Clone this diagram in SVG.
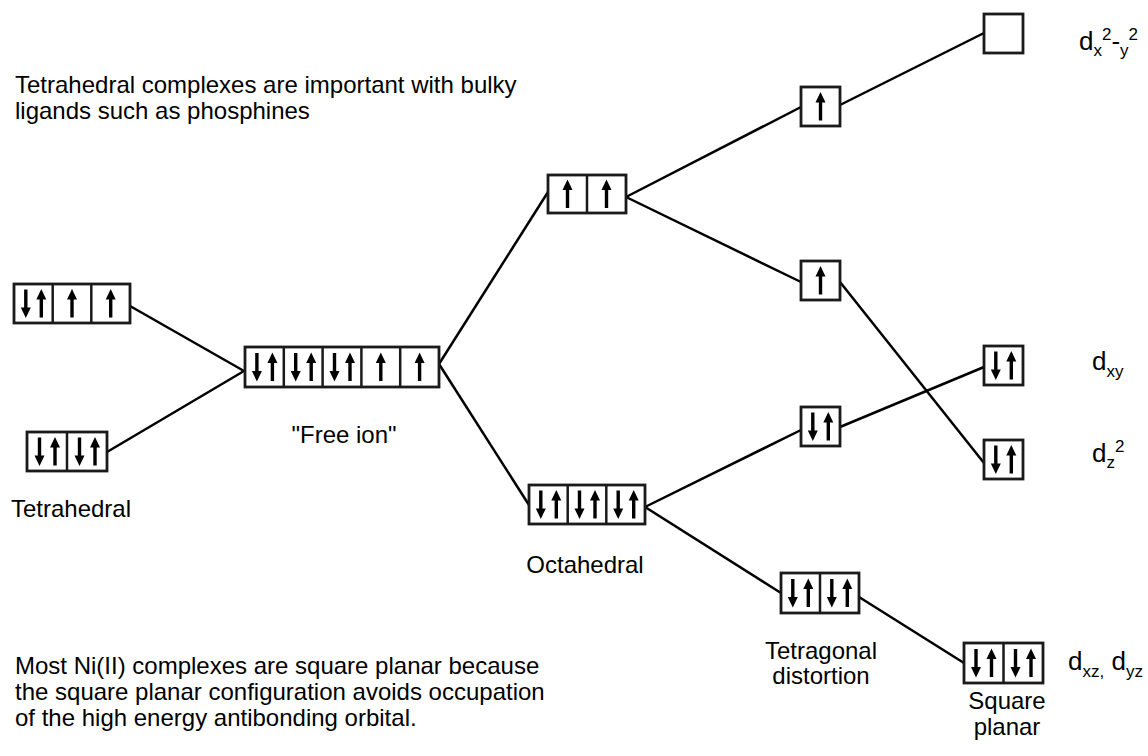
<svg xmlns="http://www.w3.org/2000/svg" xmlns:xlink="http://www.w3.org/1999/xlink" width="1148" height="756" viewBox="0 0 1148 756">
  <style>
    .box { fill: #ffffff; stroke: #1a1a1a; stroke-width: 2.8; }
    .div { stroke: #1a1a1a; stroke-width: 2.5; }
    .link { stroke: #000000; stroke-width: 2.5; fill: none; }
    .txt { font-family: "Liberation Sans", Arial, sans-serif; fill: #000000; }
    .para { font-size: 24px; }
    .lbl { font-size: 24px; }
    .orb { font-size: 26px; }
    .sm { font-size: 17px; }
  </style>
  <defs>
    <!-- electron spin arrows, centred on (0,0) -->
    <g id="up">
      <line x1="0" y1="14" x2="0" y2="-5" stroke="#000" stroke-width="3.4"/>
      <polygon points="0,-14.5 -5,-4 5,-4" fill="#000"/>
    </g>
    <g id="down">
      <line x1="0" y1="-14" x2="0" y2="5" stroke="#000" stroke-width="3.4"/>
      <polygon points="0,14.5 -5,4 5,4" fill="#000"/>
    </g>
  </defs>

  <!-- connectors -->
  <g id="connectors">
    <line class="link" x1="130" y1="306" x2="244" y2="371"/>
    <line class="link" x1="107" y1="452" x2="244" y2="371"/>
    <line class="link" x1="439" y1="364" x2="548" y2="192"/>
    <line class="link" x1="439" y1="364" x2="529" y2="505"/>
    <line class="link" x1="626" y1="197" x2="801" y2="107"/>
    <line class="link" x1="626" y1="197" x2="801" y2="282"/>
    <line class="link" x1="840" y1="105" x2="984" y2="33"/>
    <line class="link" x1="840" y1="282" x2="984" y2="463"/>
    <line class="link" x1="645" y1="507" x2="801" y2="430"/>
    <line class="link" x1="645" y1="507" x2="781" y2="593"/>
    <line class="link" x1="840" y1="427" x2="984" y2="367"/>
    <line class="link" x1="859" y1="597" x2="964" y2="663"/>
  </g>

  <!-- tetrahedral, upper set -->
  <g id="tet-upper">
    <rect class="box" x="14" y="284" width="116" height="39"/>
    <line class="div" x1="52.7" y1="284" x2="52.7" y2="323"/>
    <line class="div" x1="91.3" y1="284" x2="91.3" y2="323"/>
    <use xlink:href="#down" x="25.8" y="303.5"/>
    <use xlink:href="#up" x="41.3" y="303.5"/>
    <use xlink:href="#up" x="72" y="303.5"/>
    <use xlink:href="#up" x="110.7" y="303.5"/>
  </g>

  <!-- tetrahedral, lower set -->
  <g id="tet-lower">
    <rect class="box" x="27" y="432" width="80" height="39"/>
    <line class="div" x1="67" y1="432" x2="67" y2="471"/>
    <use xlink:href="#down" x="39.5" y="451.5"/>
    <use xlink:href="#up" x="55" y="451.5"/>
    <use xlink:href="#down" x="79.5" y="451.5"/>
    <use xlink:href="#up" x="95" y="451.5"/>
  </g>
  <text id="lbl-tetrahedral" class="txt lbl" x="71" y="517" text-anchor="middle">Tetrahedral</text>

  <!-- free ion -->
  <g id="free-ion">
    <rect class="box" x="245" y="347" width="194" height="40"/>
    <line class="div" x1="283.8" y1="347" x2="283.8" y2="387"/>
    <line class="div" x1="322.6" y1="347" x2="322.6" y2="387"/>
    <line class="div" x1="361.4" y1="347" x2="361.4" y2="387"/>
    <line class="div" x1="400.2" y1="347" x2="400.2" y2="387"/>
    <use xlink:href="#down" x="256.9" y="367"/>
    <use xlink:href="#up" x="272.4" y="367"/>
    <use xlink:href="#down" x="295.7" y="367"/>
    <use xlink:href="#up" x="311.2" y="367"/>
    <use xlink:href="#down" x="334.5" y="367"/>
    <use xlink:href="#up" x="350" y="367"/>
    <use xlink:href="#up" x="380.8" y="367"/>
    <use xlink:href="#up" x="419.6" y="367"/>
  </g>
  <text id="lbl-free-ion" class="txt lbl" x="344" y="443" text-anchor="middle">"Free ion"</text>

  <!-- octahedral eg -->
  <g id="oct-eg">
    <rect class="box" x="548" y="175" width="78" height="38"/>
    <line class="div" x1="587" y1="175" x2="587" y2="213"/>
    <use xlink:href="#up" x="567.5" y="194"/>
    <use xlink:href="#up" x="606.5" y="194"/>
  </g>

  <!-- octahedral t2g -->
  <g id="oct-t2g">
    <rect class="box" x="529" y="485" width="116" height="39"/>
    <line class="div" x1="567.7" y1="485" x2="567.7" y2="524"/>
    <line class="div" x1="606.3" y1="485" x2="606.3" y2="524"/>
    <use xlink:href="#down" x="540.8" y="504.5"/>
    <use xlink:href="#up" x="556.3" y="504.5"/>
    <use xlink:href="#down" x="579.5" y="504.5"/>
    <use xlink:href="#up" x="595" y="504.5"/>
    <use xlink:href="#down" x="618.2" y="504.5"/>
    <use xlink:href="#up" x="633.7" y="504.5"/>
  </g>
  <text id="lbl-octahedral" class="txt lbl" x="585" y="573" text-anchor="middle">Octahedral</text>

  <!-- tetragonal distortion levels -->
  <g id="tetg-b1g">
    <rect class="box" x="801" y="87" width="39" height="39"/>
    <use xlink:href="#up" x="820.5" y="106.5"/>
  </g>
  <g id="tetg-a1g">
    <rect class="box" x="801" y="261" width="39" height="39"/>
    <use xlink:href="#up" x="820.5" y="280.5"/>
  </g>
  <g id="tetg-b2g">
    <rect class="box" x="801" y="407" width="39" height="39"/>
    <use xlink:href="#down" x="812.8" y="426.5"/>
    <use xlink:href="#up" x="828.3" y="426.5"/>
  </g>
  <g id="tetg-eg">
    <rect class="box" x="781" y="573" width="78" height="40"/>
    <line class="div" x1="820" y1="573" x2="820" y2="613"/>
    <use xlink:href="#down" x="792.8" y="593"/>
    <use xlink:href="#up" x="808.3" y="593"/>
    <use xlink:href="#down" x="831.8" y="593"/>
    <use xlink:href="#up" x="847.3" y="593"/>
  </g>
  <text id="lbl-tetragonal" class="txt lbl" text-anchor="middle"><tspan x="821" y="659">Tetragonal</tspan><tspan x="821" y="684">distortion</tspan></text>

  <!-- square planar levels -->
  <g id="sq-dx2y2">
    <rect class="box" x="984" y="14" width="39" height="39"/>
  </g>
  <g id="sq-dxy">
    <rect class="box" x="984" y="346" width="39" height="39"/>
    <use xlink:href="#down" x="995.8" y="365.5"/>
    <use xlink:href="#up" x="1011.3" y="365.5"/>
  </g>
  <g id="sq-dz2">
    <rect class="box" x="984" y="440" width="39" height="39"/>
    <use xlink:href="#down" x="995.8" y="459.5"/>
    <use xlink:href="#up" x="1011.3" y="459.5"/>
  </g>
  <g id="sq-dxz-dyz">
    <rect class="box" x="964" y="643" width="79" height="40"/>
    <line class="div" x1="1003.5" y1="643" x2="1003.5" y2="683"/>
    <use xlink:href="#down" x="976" y="663"/>
    <use xlink:href="#up" x="991.5" y="663"/>
    <use xlink:href="#down" x="1015.5" y="663"/>
    <use xlink:href="#up" x="1031" y="663"/>
  </g>
  <text id="lbl-square" class="txt lbl" text-anchor="middle"><tspan x="1007" y="709">Square</tspan><tspan x="1007" y="735">planar</tspan></text>

  <!-- orbital names -->
  <text class="txt orb" x="1079" y="50">d<tspan class="sm" dy="6">x</tspan><tspan class="sm" dy="-16">2</tspan><tspan dy="10">-</tspan><tspan class="sm" dy="6">y</tspan><tspan class="sm" dy="-16">2</tspan></text>
  <text class="txt orb" x="1092" y="370">d<tspan class="sm" dy="7">xy</tspan></text>
  <text class="txt orb" x="1092" y="462">d<tspan class="sm" dy="6">z</tspan><tspan class="sm" dy="-16">2</tspan></text>
  <text class="txt orb" x="1068" y="670">d<tspan class="sm" dy="7">xz,</tspan><tspan dy="-7"> d</tspan><tspan class="sm" dy="7">yz</tspan></text>

  <!-- notes -->
  <text class="txt para"><tspan x="15" y="93">Tetrahedral complexes are important with bulky</tspan><tspan x="15" y="119">ligands such as phosphines</tspan></text>
  <text class="txt para"><tspan x="15" y="674">Most Ni(II) complexes are square planar because</tspan><tspan x="15" y="700">the square planar configuration avoids occupation</tspan><tspan x="15" y="726">of the high energy antibonding orbital.</tspan></text>
</svg>
